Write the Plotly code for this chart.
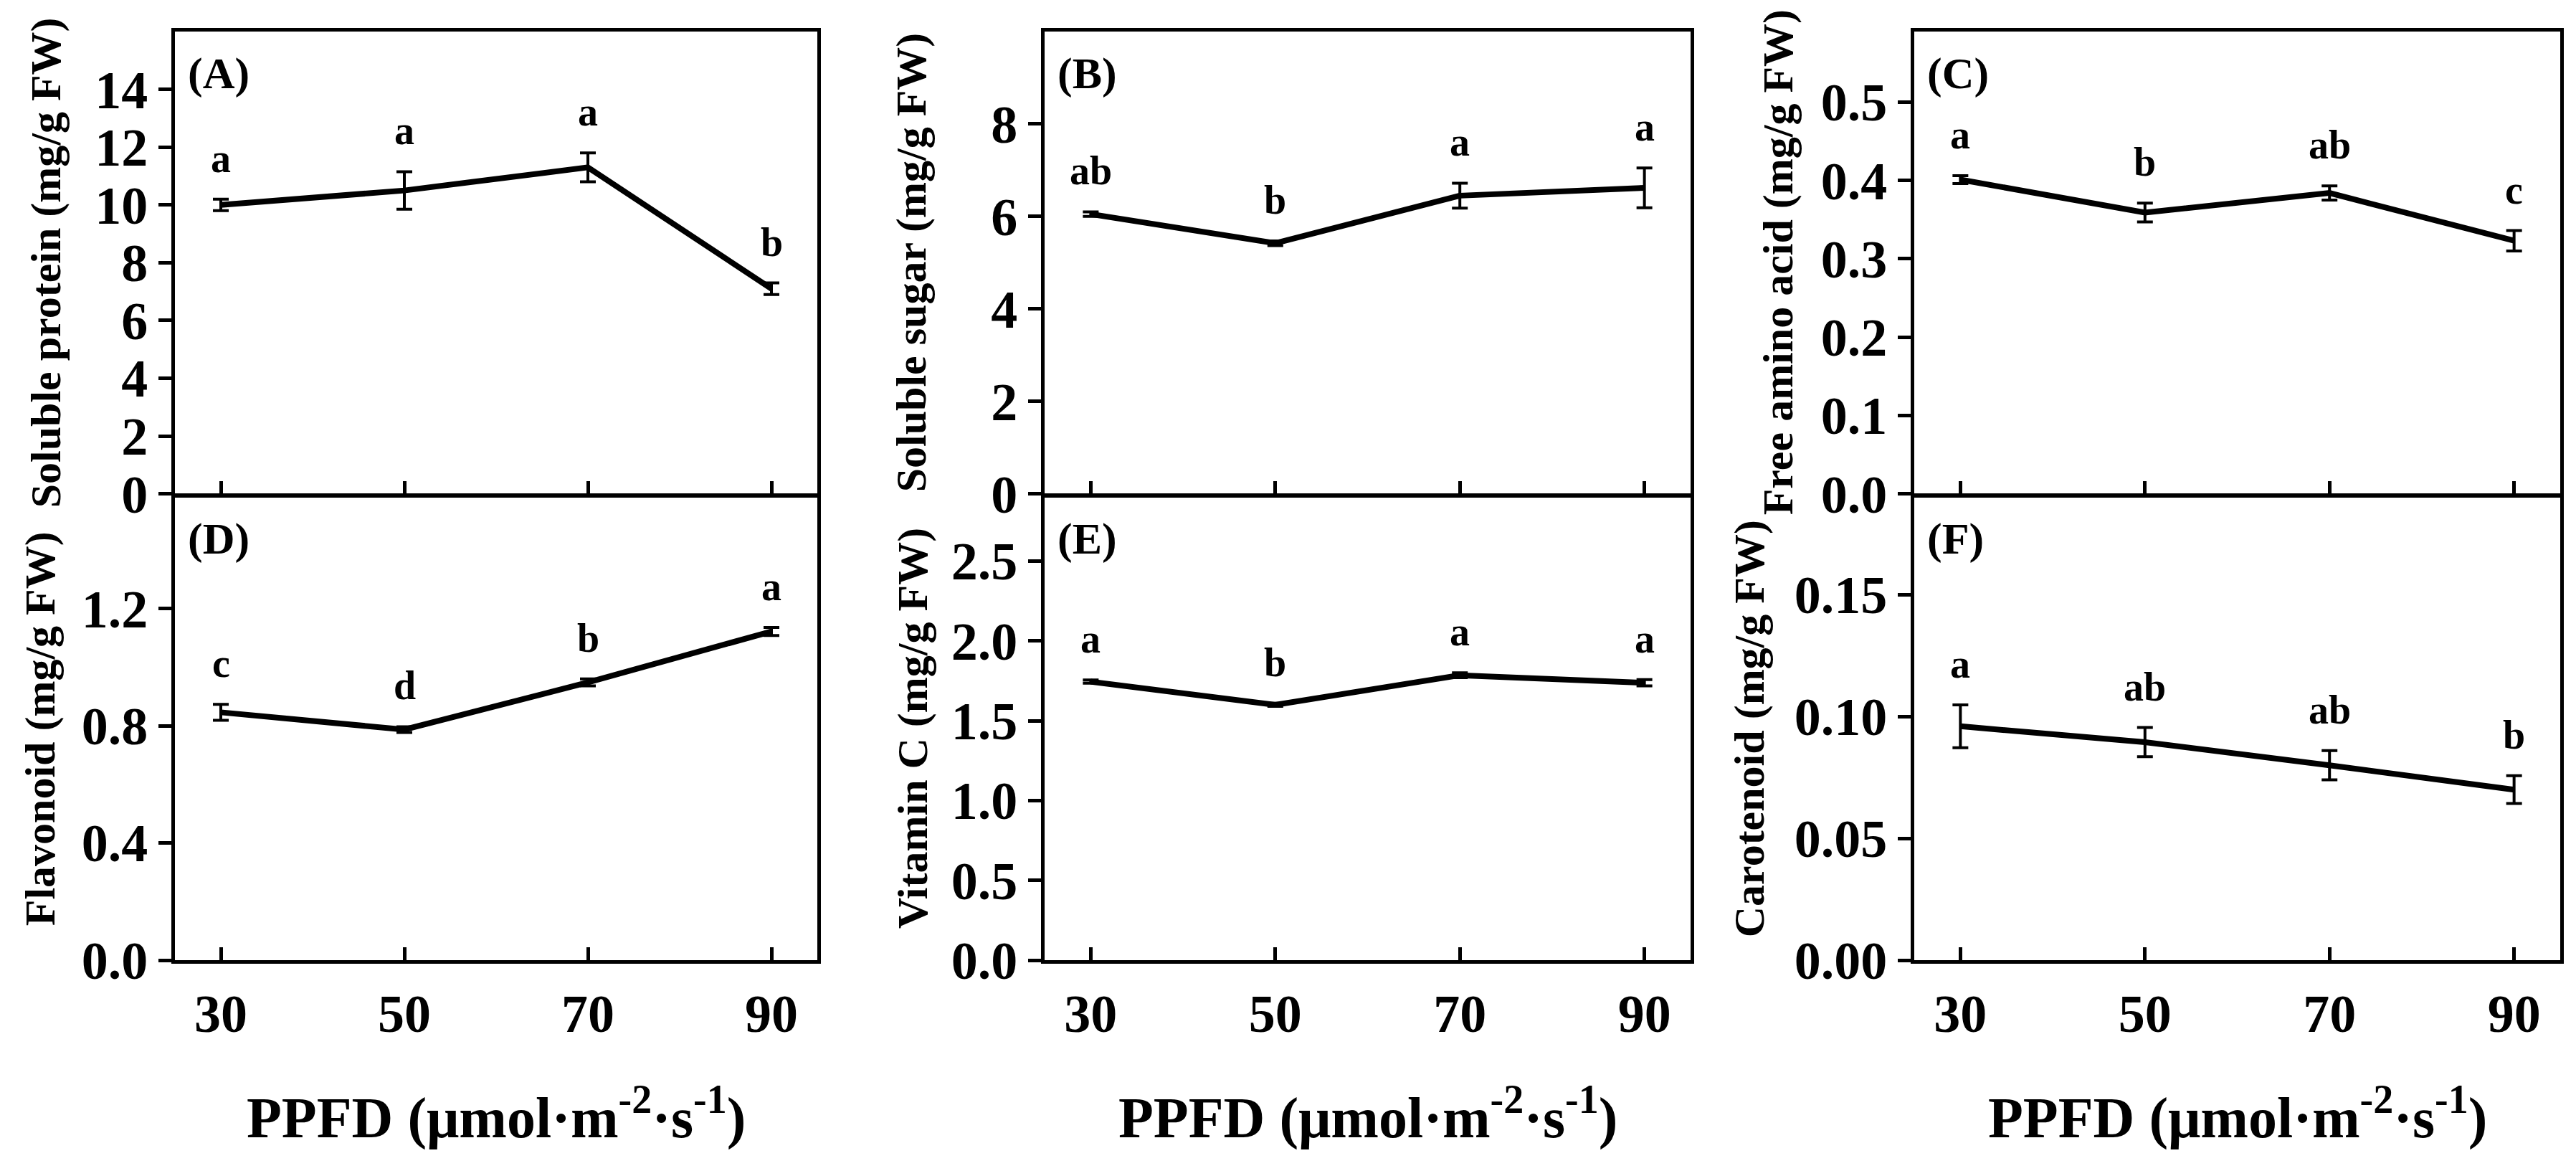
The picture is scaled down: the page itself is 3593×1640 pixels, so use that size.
import plotly.graph_objects as go

# ---------------- data ----------------
ppfd = [30, 50, 70, 90]
x_ticks = [30, 50, 70, 90]

protein = [10.0, 10.5, 11.3, 7.1]
protein_err = [0.2, 0.65, 0.5, 0.2]
protein_sig = ["a", "a", "a", "b"]

sugar = [6.05, 5.42, 6.45, 6.62]
sugar_err = [0.05, 0.05, 0.27, 0.43]
sugar_sig = ["ab", "b", "a", "a"]

amino = [0.401, 0.359, 0.384, 0.323]
amino_err = [0.005, 0.012, 0.009, 0.013]
amino_sig = ["a", "b", "ab", "c"]

flav = [0.846, 0.787, 0.948, 1.122]
flav_err = [0.027, 0.010, 0.012, 0.014]
flav_sig = ["c", "d", "b", "a"]

vitc = [1.745, 1.60, 1.785, 1.738]
vitc_err = [0.010, 0.010, 0.015, 0.020]
vitc_sig = ["a", "b", "a", "a"]

carot = [0.096, 0.0895, 0.080, 0.070]
carot_err = [0.0088, 0.006, 0.006, 0.0057]
carot_sig = ["a", "ab", "ab", "b"]

panels = [
    # values, errors, letters, y title, panel tag, y range, y ticks, tick format
    (protein, protein_err, protein_sig, "Soluble protein (mg/g FW)", "(A)", [0, 16], [0, 2, 4, 6, 8, 10, 12, 14], "d"),
    (sugar, sugar_err, sugar_sig, "Soluble sugar (mg/g FW)", "(B)", [0, 10], [0, 2, 4, 6, 8], "d"),
    (amino, amino_err, amino_sig, "Free amino acid (mg/g FW)", "(C)", [0, 0.59], [0, 0.1, 0.2, 0.3, 0.4, 0.5], ".1f"),
    (flav, flav_err, flav_sig, "Flavonoid (mg/g FW)", "(D)", [0, 1.58], [0, 0.4, 0.8, 1.2], ".1f"),
    (vitc, vitc_err, vitc_sig, "Vitamin C (mg/g FW)", "(E)", [0, 2.9], [0, 0.5, 1.0, 1.5, 2.0, 2.5], ".1f"),
    (carot, carot_err, carot_sig, "Carotenoid (mg/g FW)", "(F)", [0, 0.19], [0, 0.05, 0.10, 0.15], ".2f"),
]

# ---------------- layout geometry ----------------
W, H = 3593, 1640
LW = 5
col_px = [(236, 1132), (1449, 2350), (2662, 3563)]
# top row bottom / bottom row top offset so the shared border lines coincide
row_px = [(37, 701 - LW / 2), (701 + LW / 2, 1366)]
ytitle_shift = [-180, -186, -190, -188, -184, -230]

FONT = "Liberation Serif, Times New Roman, serif"
BLACK = "#000000"

fig = go.Figure()
layout = dict(
    width=W, height=H,
    margin=dict(l=0, r=0, t=0, b=0),
    paper_bgcolor="white", plot_bgcolor="white",
    showlegend=False,
    font=dict(family=FONT, color=BLACK),
)
annotations = []

for i, (vals, errs, sig, ytitle, tag, yr, yt, fmt) in enumerate(panels):
    r, c = divmod(i, 3)
    n = i + 1
    xa = "x" if n == 1 else f"x{n}"
    ya = "y" if n == 1 else f"y{n}"
    xd = [col_px[c][0] / W, col_px[c][1] / W]
    yd = [1 - row_px[r][1] / H, 1 - row_px[r][0] / H]

    fig.add_trace(go.Scatter(
        x=ppfd, y=vals, mode="lines",
        line=dict(color=BLACK, width=8),
        error_y=dict(type="data", array=errs, visible=True,
                     color=BLACK, thickness=4, width=11),
        xaxis=xa, yaxis=ya, hoverinfo="skip",
    ))

    xaxis = dict(
        domain=xd, anchor=ya, range=[25, 95],
        tickmode="array", tickvals=x_ticks,
        showticklabels=(r == 1),
        ticks="inside", ticklen=18, tickwidth=LW, tickcolor=BLACK,
        showline=True, linewidth=LW, linecolor=BLACK, mirror=True,
        showgrid=False, zeroline=False,
        fixedrange=True,
    )
    if r == 1:
        xaxis["tickfont"] = dict(family=FONT, size=74, color=BLACK, weight="bold")
        xaxis["ticklabelstandoff"] = 6
    layout["xaxis" if n == 1 else f"xaxis{n}"] = xaxis

    layout["yaxis" if n == 1 else f"yaxis{n}"] = dict(
        domain=yd, anchor=xa, range=yr,
        tickmode="array", tickvals=yt, tickformat=fmt,
        ticks="outside", ticklen=18, tickwidth=LW, tickcolor=BLACK,
        showline=True, linewidth=LW, linecolor=BLACK, mirror=True,
        showgrid=False, zeroline=False,
        tickfont=dict(family=FONT, size=74, color=BLACK, weight="bold"),
        fixedrange=True,
    )

    # y-axis title
    annotations.append(dict(
        text=ytitle, textangle=-90, showarrow=False,
        xref=f"{xa} domain", yref=f"{ya} domain",
        x=0, y=0.5, xanchor="center", yanchor="middle", xshift=ytitle_shift[i],
        font=dict(family=FONT, size=60, color=BLACK, weight="bold"),
    ))
    # panel tag
    annotations.append(dict(
        text=tag, showarrow=False,
        xref=f"{xa} domain", yref=f"{ya} domain",
        x=0, y=1, xanchor="left", yanchor="top", xshift=16, yshift=-22,
        font=dict(family=FONT, size=62, color=BLACK, weight="bold"),
    ))
    # significance letters
    for xv, v, e, s in zip(ppfd, vals, errs, sig):
        annotations.append(dict(
            text=s, showarrow=False, xref=xa, yref=ya,
            x=xv, y=v + e, xanchor="center", yanchor="bottom", yshift=24,
            font=dict(family=FONT, size=56, color=BLACK, weight="bold"),
        ))
    # x-axis title under bottom row
    if r == 1:
        annotations.append(dict(
            text="PPFD (μmol·m<sup>-2</sup>·s<sup>-1</sup>)", showarrow=False,
            xref=f"{xa} domain", yref="paper",
            x=0.5, y=1 - 1586 / H, xanchor="center", yanchor="middle",
            font=dict(family=FONT, size=80, color=BLACK, weight="bold"),
        ))

layout["annotations"] = annotations
fig.update_layout(**layout)
fig.write_html("out.html")
